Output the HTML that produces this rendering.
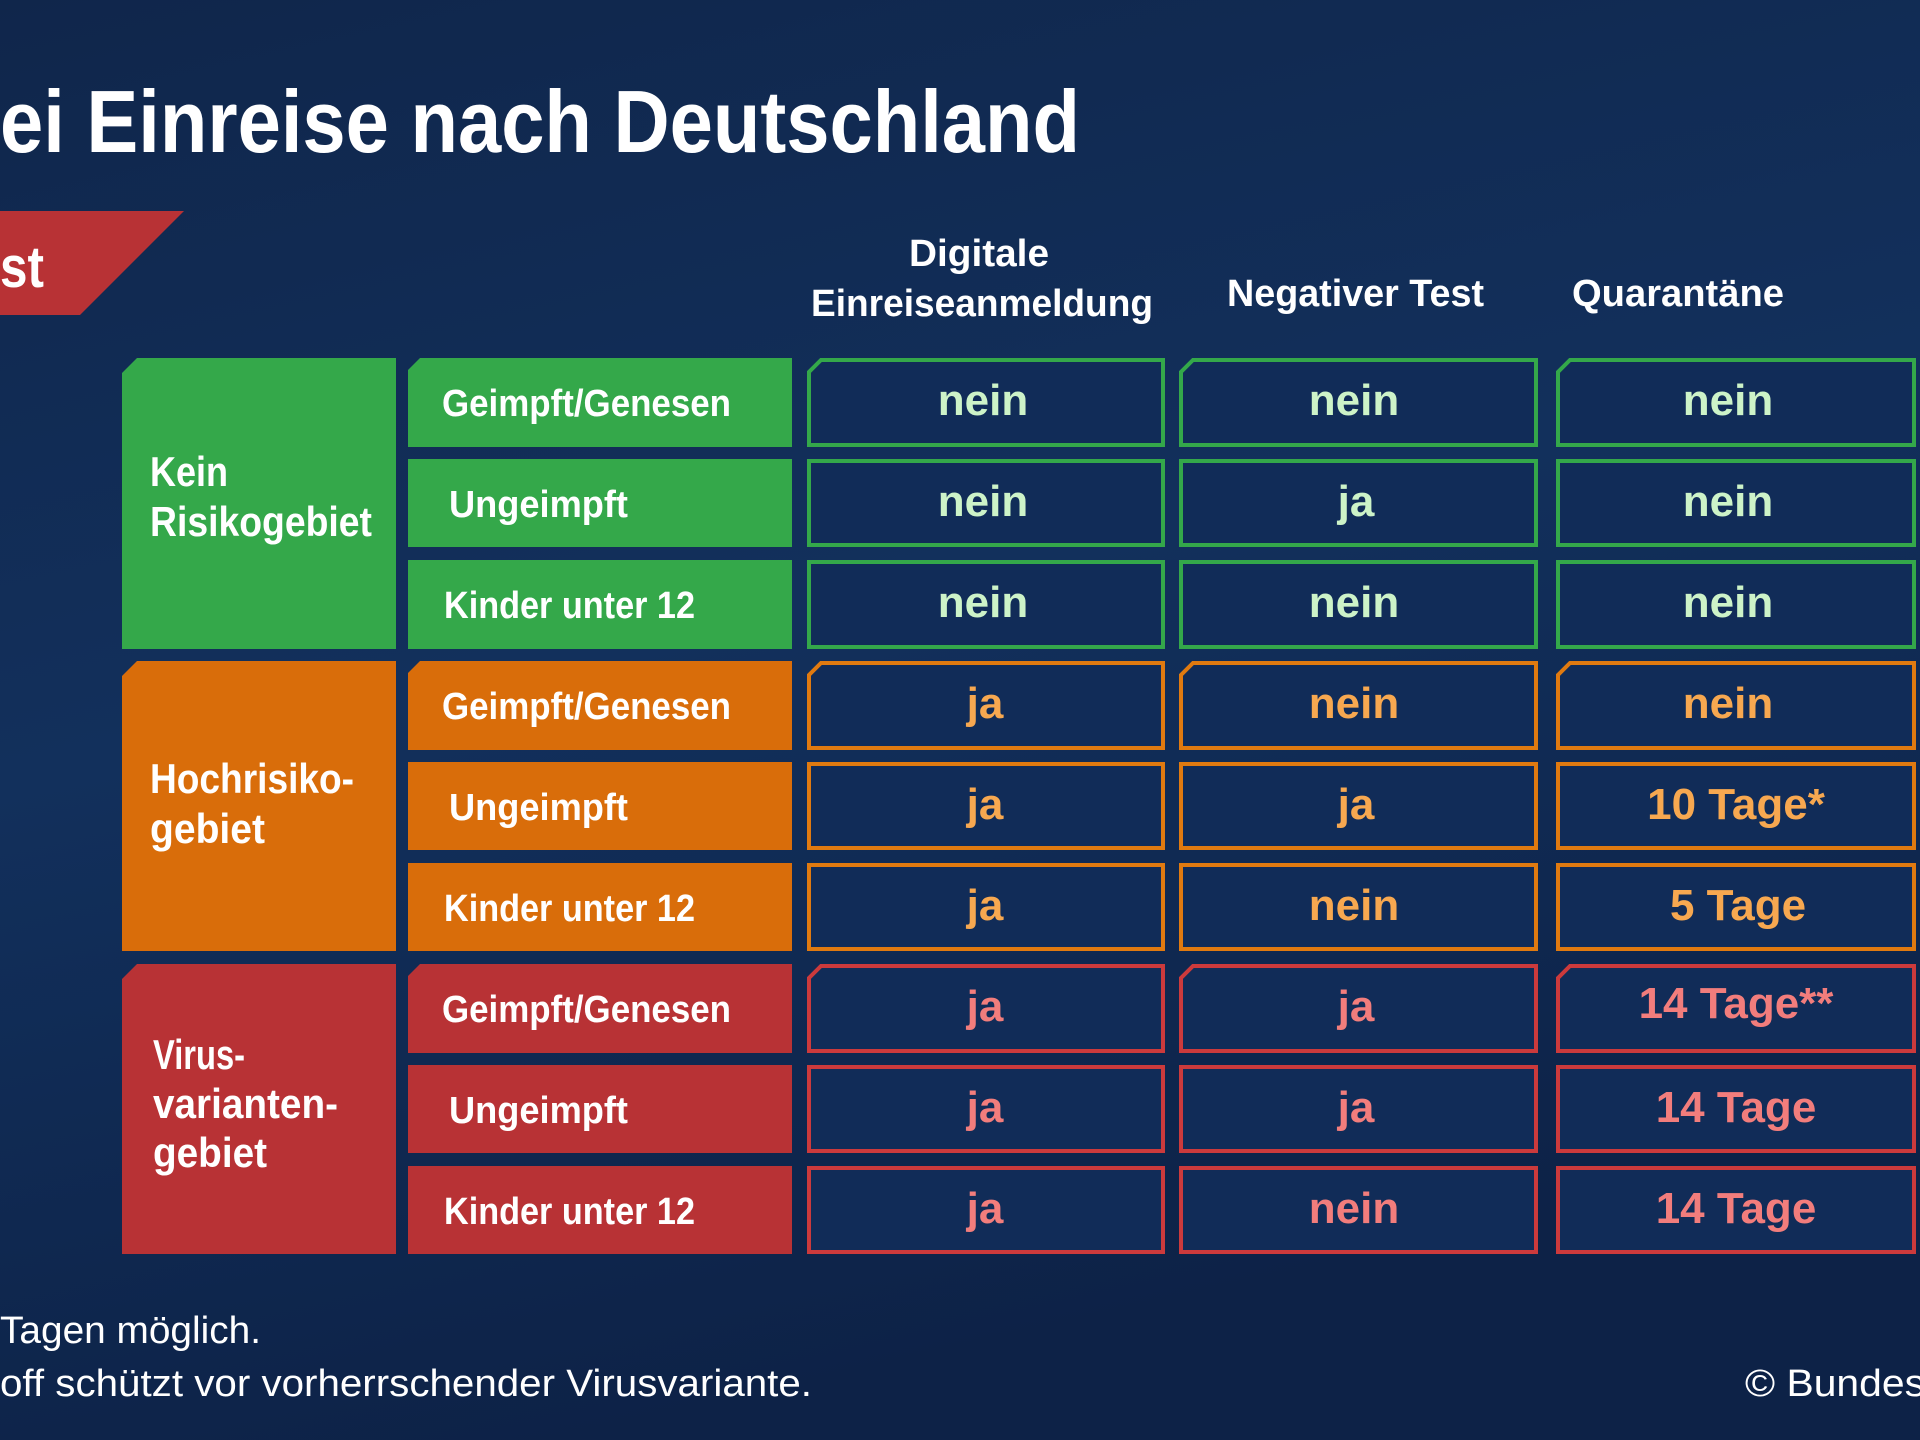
<!DOCTYPE html>
<html><head><meta charset="utf-8"><style>
html,body{margin:0;padding:0;width:1920px;height:1440px;overflow:hidden;background:#10284f}
svg{display:block}
text{font-family:"Liberation Sans Narrow","Liberation Sans",sans-serif;font-weight:bold}
</style></head><body>
<svg width="1920" height="1440" viewBox="0 0 1920 1440" xmlns="http://www.w3.org/2000/svg">
<defs>
<linearGradient id="bg" x1="0" y1="0" x2="0.3" y2="1">
<stop offset="0" stop-color="#10264b"/><stop offset="0.5" stop-color="#12305c"/><stop offset="1" stop-color="#0d2247"/>
</linearGradient>
</defs>
<rect width="1920" height="1440" fill="url(#bg)"/>
<text x="0" y="152" font-size="88" fill="#fff" textLength="1080" lengthAdjust="spacingAndGlyphs">ei Einreise nach Deutschland</text>
<polygon points="0,211 184,211 80,315 0,315" fill="#b83235"/>
<text x="0" y="287" font-size="58" fill="#fff" textLength="44" lengthAdjust="spacingAndGlyphs">st</text>
<g fill="#fff" font-size="38">
<text x="909" y="266" textLength="140" lengthAdjust="spacingAndGlyphs">Digitale</text>
<text x="811" y="316" textLength="342" lengthAdjust="spacingAndGlyphs">Einreiseanmeldung</text>
<text x="1227" y="306" textLength="257" lengthAdjust="spacingAndGlyphs">Negativer Test</text>
<text x="1572" y="306" textLength="212" lengthAdjust="spacingAndGlyphs">Quarantäne</text>
</g>
<!-- groups -->
<g>
<polygon points="137,358 396,358 396,649 122,649 122,373" fill="#34a84a"/>
<polygon points="137,661 396,661 396,951 122,951 122,676" fill="#d96d0a"/>
<polygon points="137,964 396,964 396,1254 122,1254 122,979" fill="#b83235"/>
</g>
<g fill="#fff" font-size="42">
<text x="150" y="486" textLength="78" lengthAdjust="spacingAndGlyphs">Kein</text>
<text x="150" y="536" textLength="222" lengthAdjust="spacingAndGlyphs">Risikogebiet</text>
<text x="150" y="793" textLength="204" lengthAdjust="spacingAndGlyphs">Hochrisiko-</text>
<text x="150" y="843" textLength="115" lengthAdjust="spacingAndGlyphs">gebiet</text>
<text x="153" y="1069" textLength="92" lengthAdjust="spacingAndGlyphs">Virus-</text>
<text x="153" y="1118" textLength="185" lengthAdjust="spacingAndGlyphs">varianten-</text>
<text x="153" y="1167" textLength="114" lengthAdjust="spacingAndGlyphs">gebiet</text>
</g>
<!-- sublabels -->
<g>
<polygon points="420,358 792,358 792,447 408,447 408,370" fill="#34a84a"/>
<rect x="408" y="459" width="384" height="88" fill="#34a84a"/>
<rect x="408" y="560" width="384" height="89" fill="#34a84a"/>
<polygon points="420,661 792,661 792,750 408,750 408,673" fill="#d96d0a"/>
<rect x="408" y="762" width="384" height="88" fill="#d96d0a"/>
<rect x="408" y="863" width="384" height="88" fill="#d96d0a"/>
<polygon points="420,964 792,964 792,1053 408,1053 408,976" fill="#b83235"/>
<rect x="408" y="1065" width="384" height="88" fill="#b83235"/>
<rect x="408" y="1166" width="384" height="88" fill="#b83235"/>
</g>
<g fill="#fff" font-size="38">
<text x="442" y="416" textLength="289" lengthAdjust="spacingAndGlyphs">Geimpft/Genesen</text>
<text x="449" y="517" textLength="179" lengthAdjust="spacingAndGlyphs">Ungeimpft</text>
<text x="444" y="618" textLength="251" lengthAdjust="spacingAndGlyphs">Kinder unter 12</text>
<text x="442" y="719" textLength="289" lengthAdjust="spacingAndGlyphs">Geimpft/Genesen</text>
<text x="449" y="820" textLength="179" lengthAdjust="spacingAndGlyphs">Ungeimpft</text>
<text x="444" y="921" textLength="251" lengthAdjust="spacingAndGlyphs">Kinder unter 12</text>
<text x="442" y="1022" textLength="289" lengthAdjust="spacingAndGlyphs">Geimpft/Genesen</text>
<text x="449" y="1123" textLength="179" lengthAdjust="spacingAndGlyphs">Ungeimpft</text>
<text x="444" y="1224" textLength="251" lengthAdjust="spacingAndGlyphs">Kinder unter 12</text>
</g>
<!-- cells -->
<g fill="#112c58" stroke-width="4">
<g stroke="#34a84a">
<polygon points="821,360 1163,360 1163,445 809,445 809,372"/><polygon points="1193,360 1536,360 1536,445 1181,445 1181,372"/><polygon points="1570,360 1914,360 1914,445 1558,445 1558,372"/>
<rect x="809" y="461" width="354" height="84"/><rect x="1181" y="461" width="355" height="84"/><rect x="1558" y="461" width="356" height="84"/>
<rect x="809" y="562" width="354" height="85"/><rect x="1181" y="562" width="355" height="85"/><rect x="1558" y="562" width="356" height="85"/>
</g>
<g stroke="#e07a10">
<polygon points="821,663 1163,663 1163,748 809,748 809,675"/><polygon points="1193,663 1536,663 1536,748 1181,748 1181,675"/><polygon points="1570,663 1914,663 1914,748 1558,748 1558,675"/>
<rect x="809" y="764" width="354" height="84"/><rect x="1181" y="764" width="355" height="84"/><rect x="1558" y="764" width="356" height="84"/>
<rect x="809" y="865" width="354" height="84"/><rect x="1181" y="865" width="355" height="84"/><rect x="1558" y="865" width="356" height="84"/>
</g>
<g stroke="#cc3a3c">
<polygon points="821,966 1163,966 1163,1051 809,1051 809,978"/><polygon points="1193,966 1536,966 1536,1051 1181,1051 1181,978"/><polygon points="1570,966 1914,966 1914,1051 1558,1051 1558,978"/>
<rect x="809" y="1067" width="354" height="84"/><rect x="1181" y="1067" width="355" height="84"/><rect x="1558" y="1067" width="356" height="84"/>
<rect x="809" y="1168" width="354" height="84"/><rect x="1181" y="1168" width="355" height="84"/><rect x="1558" y="1168" width="356" height="84"/>
</g>
</g>
<g font-size="44" text-anchor="middle">
<g fill="#cdf3c8">
<text x="983" y="415">nein</text><text x="1354" y="415">nein</text><text x="1728" y="415">nein</text>
<text x="983" y="516">nein</text><text x="1356" y="516">ja</text><text x="1728" y="516">nein</text>
<text x="983" y="617">nein</text><text x="1354" y="617">nein</text><text x="1728" y="617">nein</text>
</g>
<g fill="#f7a850">
<text x="985" y="718">ja</text><text x="1354" y="718">nein</text><text x="1728" y="718">nein</text>
<text x="985" y="819">ja</text><text x="1356" y="819">ja</text><text x="1736" y="819">10 Tage*</text>
<text x="985" y="920">ja</text><text x="1354" y="920">nein</text><text x="1738" y="920">5 Tage</text>
</g>
<g fill="#f27d7c">
<text x="985" y="1021">ja</text><text x="1356" y="1021">ja</text><text x="1736" y="1018">14 Tage**</text>
<text x="985" y="1122">ja</text><text x="1356" y="1122">ja</text><text x="1736" y="1122">14 Tage</text>
<text x="985" y="1223">ja</text><text x="1354" y="1223">nein</text><text x="1736" y="1223">14 Tage</text>
</g>
</g>
<g fill="#fff" font-size="38" style="font-weight:normal">
<text x="0" y="1343" style="font-weight:normal" textLength="261" lengthAdjust="spacingAndGlyphs">Tagen möglich.</text>
<text x="0" y="1396" style="font-weight:normal" textLength="812" lengthAdjust="spacingAndGlyphs">off schützt vor vorherrschender Virusvariante.</text>
<text x="1745" y="1396" style="font-weight:normal" textLength="180" lengthAdjust="spacingAndGlyphs">© Bundes</text>
</g>
</svg>
</body></html>
